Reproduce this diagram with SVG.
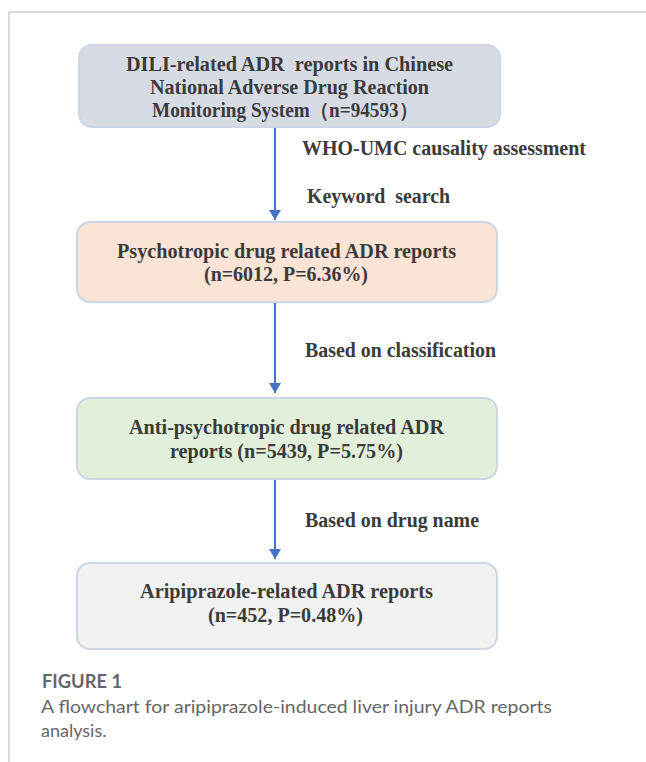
<svg xmlns="http://www.w3.org/2000/svg" width="646" height="762" viewBox="0 0 646 762">
<defs>
<style>
.box{stroke:#cdd6e6;stroke-width:2}
.t{font-family:"Liberation Serif","Times New Roman",serif;font-weight:bold;font-size:20px;fill:#3b3b3b}
.cap{font-family:Lato,"Open Sans",sans-serif;font-size:18px;fill:#666}
.conn{stroke:#4472c4;stroke-width:2;fill:none}
</style>
<marker id="ah" viewBox="0 0 10 12" refX="10" refY="6" markerWidth="10" markerHeight="12" markerUnits="userSpaceOnUse" orient="auto">
<path d="M0,0 L10,6 L0,12 Z" fill="#4472c4"/>
</marker>
</defs>
<rect width="646" height="762" fill="#fff"/>
<path d="M9,762 V12 H646" fill="none" stroke="#cfcfcf" stroke-width="1.5"/>
<g id="connectors">
<line class="conn" x1="275" y1="127" x2="275" y2="220" marker-end="url(#ah)"/>
<line class="conn" x1="275" y1="302" x2="275" y2="393" marker-end="url(#ah)"/>
<line class="conn" x1="275" y1="479" x2="275" y2="559" marker-end="url(#ah)"/>
<text class="t" x="302" y="155" textLength="284" lengthAdjust="spacingAndGlyphs">WHO-UMC causality assessment</text>
<text class="t" x="307" y="203" textLength="143" lengthAdjust="spacingAndGlyphs" xml:space="preserve">Keyword  search</text>
<text class="t" x="305" y="357" textLength="191" lengthAdjust="spacingAndGlyphs">Based on classification</text>
<text class="t" x="305" y="527" textLength="174" lengthAdjust="spacingAndGlyphs">Based on drug name</text>
</g>
<g id="node1">
<rect class="box" x="79" y="45" width="421" height="82" rx="13" fill="#d7dbe4"/>
<text class="t" x="126" y="71" textLength="327" lengthAdjust="spacingAndGlyphs" xml:space="preserve">DILI-related ADR  reports in Chinese</text>
<text class="t" x="150" y="94" textLength="279" lengthAdjust="spacingAndGlyphs">National Adverse Drug Reaction</text>
<text class="t" x="152" y="117" textLength="266" lengthAdjust="spacingAndGlyphs">Monitoring System（n=94593）</text>
</g>
<g id="node2">
<rect class="box" x="77" y="222" width="420" height="80" rx="13" fill="#fbe3d5"/>
<text class="t" x="117" y="258" textLength="339" lengthAdjust="spacingAndGlyphs">Psychotropic drug related ADR reports</text>
<text class="t" x="204" y="281" textLength="164" lengthAdjust="spacingAndGlyphs">(n=6012, P=6.36%)</text>
</g>
<g id="node3">
<rect class="box" x="77" y="398" width="420" height="81" rx="13" fill="#e2efda"/>
<text class="t" x="129" y="434" textLength="315" lengthAdjust="spacingAndGlyphs">Anti-psychotropic drug related ADR</text>
<text class="t" x="170" y="458" textLength="233" lengthAdjust="spacingAndGlyphs">reports (n=5439, P=5.75%)</text>
</g>
<g id="node4">
<rect class="box" x="77" y="563" width="420" height="86" rx="13" fill="#f2f2f2"/>
<text class="t" x="140" y="598" textLength="293" lengthAdjust="spacingAndGlyphs">Aripiprazole-related ADR reports</text>
<text class="t" x="208" y="622" textLength="155" lengthAdjust="spacingAndGlyphs">(n=452, P=0.48%)</text>
</g>
<g id="caption">
<text class="cap" x="42" y="688" font-weight="bold" fill="#5a5a5a" textLength="80" lengthAdjust="spacingAndGlyphs">FIGURE 1</text>
<text class="cap" x="41" y="713" textLength="511" lengthAdjust="spacingAndGlyphs">A flowchart for aripiprazole-induced liver injury ADR reports</text>
<text class="cap" x="41" y="737">analysis.</text>
</g>
</svg>
